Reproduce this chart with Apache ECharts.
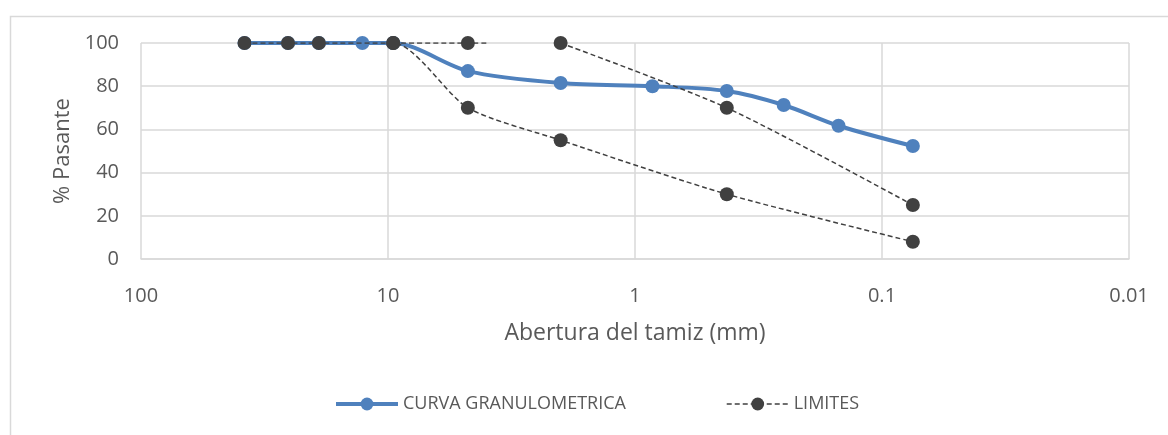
<!DOCTYPE html>
<html>
<head>
<meta charset="utf-8">
<script src="https://cdn.jsdelivr.net/npm/echarts@6/dist/echarts.min.js"></script>
<style>
html,body{margin:0;padding:0;background:#fff;}
#c{width:1168px;height:435px;}
</style>
</head>
<body>
<div id="c"></div>
<script>
// Sieve openings (mm) and passing percentages
var curveSizes = [38.1, 25.4, 19.05, 12.7, 9.525, 4.75, 2.0, 0.85, 0.425, 0.25, 0.15, 0.075];
var curveValues = [100, 100, 100, 100, 100, 87, 81.5, 80, 77.8, 71.3, 61.7, 52.3];
var lowerSizes = [38.1, 25.4, 19.05, 9.525, 4.75, 2.0, 0.425, 0.075];
var lowerValues = [100, 100, 100, 100, 70, 55, 30, 8];
var upperASizes = [9.525, 4.75, 3.93];
var upperAValues = [100, 100, 100];
var upperBSizes = [2.0, 0.425, 0.075];
var upperBValues = [100, 70, 25];
var xTicks = [100, 10, 1, 0.1, 0.01];
var yTicks = [0, 20, 40, 60, 80, 100];

function pairs(xs, ys){ return xs.map(function(x,i){ return [x, ys[i]]; }); }

var FONT = '"Open Sans", "Noto Sans", sans-serif';
var TXT = '#595959';
var BLUE = '#4f81bd';
var DARK = '#404040';

var upperA = pairs(upperASizes, upperAValues);
upperA[upperA.length-1] = {value: upperA[upperA.length-1], symbol: 'none'};

var limStyle = {
  type: 'line', name: 'LIMITES', smooth: 0.25,
  symbol: 'circle', symbolSize: 14,
  itemStyle: {color: DARK},
  lineStyle: {color: DARK, width: 1.5, type: [5, 3]},
  z: 3
};

var chart = echarts.init(document.getElementById('c'), null, {renderer: 'canvas'});
chart.setOption({
  animation: false,
  backgroundColor: '#fff',
  graphic: [{
    type: 'rect', left: 8, top: 14, silent: true,
    shape: {width: 1300, height: 600},
    style: {fill: 'none', stroke: '#d9d9d9', lineWidth: 1.5}
  }],
  grid: {left: 141, right: 39, top: 43, bottom: 176},
  legend: {
    left: 329, top: 390, itemGap: 100, itemWidth: 62, itemHeight: 16,
    textStyle: {fontFamily: FONT, fontSize: 18, color: TXT},
    data: [
      {name: 'CURVA GRANULOMETRICA', lineStyle: {width: 4}},
      {name: 'LIMITES', lineStyle: {width: 1.5}}
    ]
  },
  xAxis: {
    type: 'log', logBase: 10, min: 0.01, max: 100, inverse: true,
    name: 'Abertura del tamiz (mm)', nameLocation: 'middle', nameGap: 63,
    nameTextStyle: {fontFamily: FONT, fontSize: 23, color: TXT},
    axisLine: {show: true, lineStyle: {color: '#d9d9d9', width: 1.5}},
    axisTick: {show: false},
    splitLine: {show: true, lineStyle: {color: '#d9d9d9', width: 1.5}},
    minorSplitLine: {show: false},
    axisLabel: {
      margin: 27, fontFamily: FONT, fontSize: 20, color: TXT,
      formatter: function(v){
        for (var i=0;i<xTicks.length;i++){ if (Math.abs(v-xTicks[i])/xTicks[i] < 1e-6) return String(xTicks[i]); }
        return '';
      }
    }
  },
  yAxis: {
    type: 'value', min: yTicks[0], max: yTicks[yTicks.length-1], interval: 20,
    name: '% Pasante', nameLocation: 'middle', nameGap: 66, nameRotate: 90,
    nameTextStyle: {fontFamily: FONT, fontSize: 22, color: TXT},
    axisLine: {show: false}, axisTick: {show: false},
    splitLine: {show: true, lineStyle: {color: '#d9d9d9', width: 1.5}},
    axisLabel: {margin: 22, fontFamily: FONT, fontSize: 20, color: TXT}
  },
  series: [
    {
      type: 'line', name: 'CURVA GRANULOMETRICA', smooth: 0.3,
      data: pairs(curveSizes, curveValues),
      symbol: 'circle', symbolSize: 14,
      itemStyle: {color: BLUE},
      lineStyle: {color: BLUE, width: 4},
      z: 2
    },
    Object.assign({}, limStyle, {data: pairs(lowerSizes, lowerValues)}),
    Object.assign({}, limStyle, {data: upperA}),
    Object.assign({}, limStyle, {data: pairs(upperBSizes, upperBValues)})
  ]
});
</script>
</body>
</html>
